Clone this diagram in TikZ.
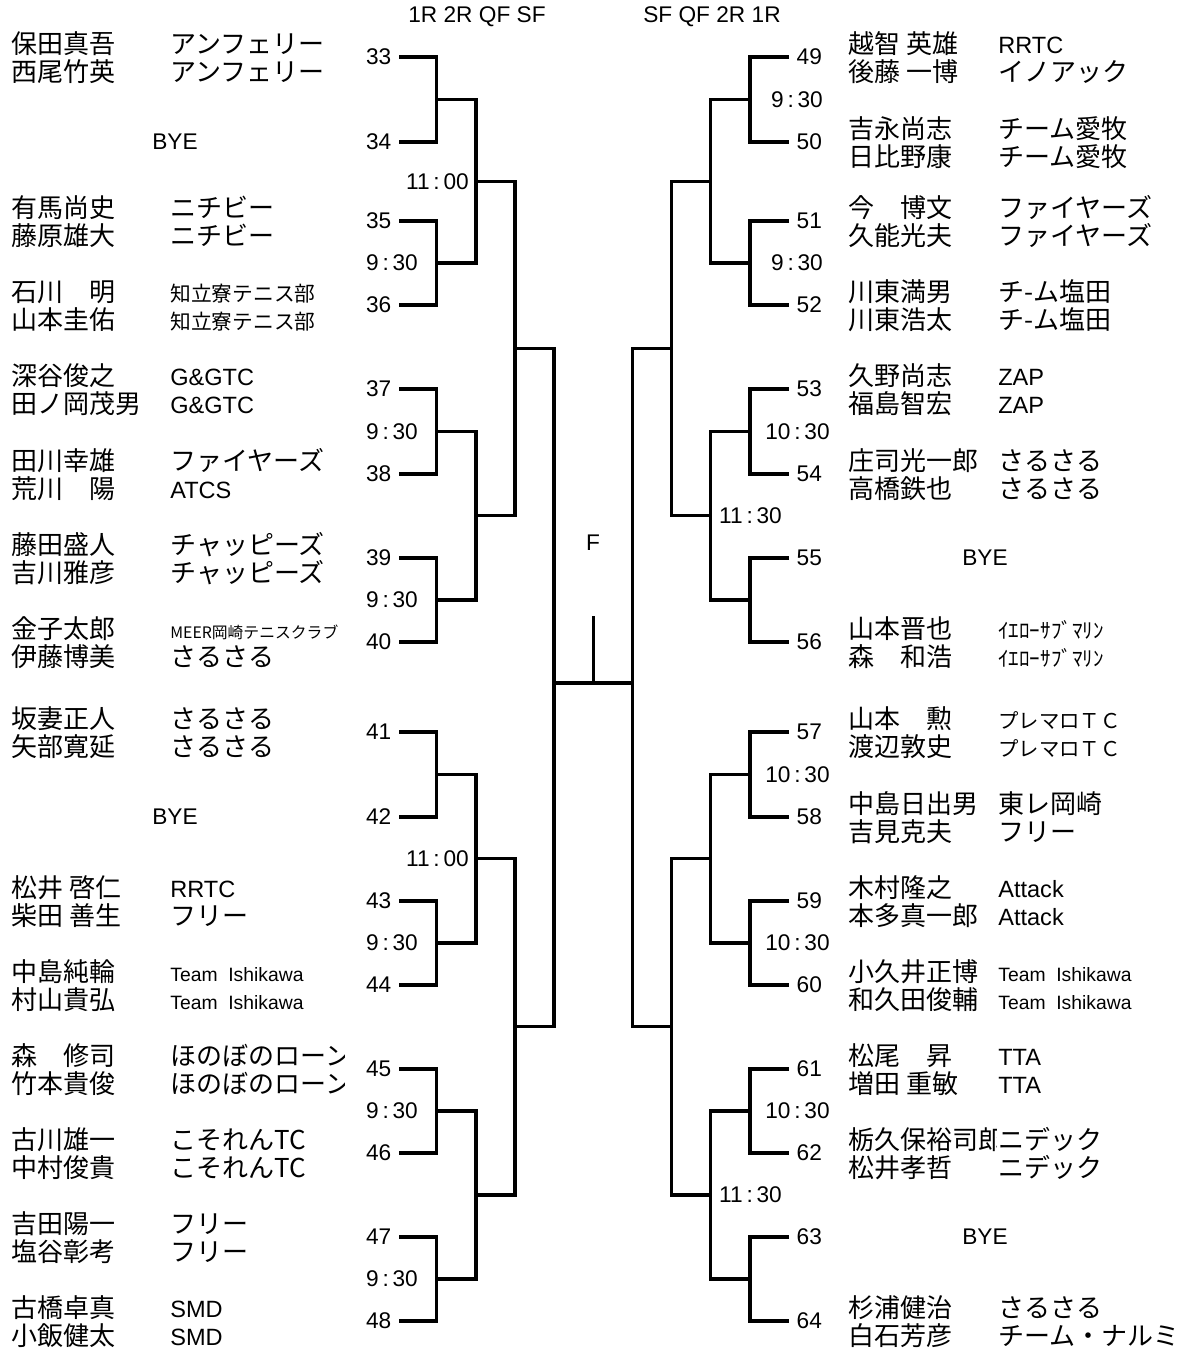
\documentclass[tikz,border=0pt]{standalone}
\usepackage{fontspec}
\setmainfont{Liberation Sans}
\newfontfamily\jpfont{Noto Sans CJK JP}
\newfontfamily\lafont{Liberation Sans}
\newcommand{\la}{\lafont\fontsize{13.4}{15}\selectfont}
\newcommand{\ti}{\lafont\fontsize{11}{12}\selectfont}
\newcommand{\js}[1]{\fontsize{#1}{#1}\selectfont}
\newcommand{\hm}[2]{#1\thinspace:\thinspace#2}

\begin{document}
\begin{tikzpicture}[x=0.02cm,y=-0.02cm,
  bk/.style={line width=1.75pt},
  num/.style={inner sep=4.2pt,font=\fontsize{12.9}{14}\selectfont},
  lab/.style={inner sep=0pt,font=\fontsize{12.9}{14}\selectfont},
  nm/.style={anchor=base west,inner sep=0pt,font=\jpfont\fontsize{14.8}{16}\selectfont}]
\useasboundingbox (0,0) rectangle (1188,1353);

% round headers and final
\node[lab] (hl) at (477,17) {1R 2R QF SF};
\node[lab] (hr) at (712,17) {SF QF 2R 1R};
\node[lab] (fin) at (593,543) {F};

% draw numbers
\foreach \y [count=\i from 33] in {57,142,221,305,389,474,558,642,732,817,901,985,1069,1153,1237,1321}
  \node[num,anchor=east] (n\i) at (399,\y) {\i};
\foreach \y [count=\i from 49] in {57,142,221,305,389,474,558,642,732,817,901,985,1069,1153,1237,1321}
  \node[num,anchor=west] (n\i) at (789,\y) {\i};

% first round
\foreach \a/\b/\m in {33/34/99.5,35/36/263,37/38/431.5,39/40/600,41/42/774.5,43/44/943,45/46/1111,47/48/1279}
  \draw[bk] (n\a.east) -| (436.7,\m) coordinate (j\a) |- (n\b.east);
\foreach \a/\b/\m in {49/50/99.5,51/52/263,53/54/431.5,55/56/600,57/58/774.5,59/60/943,61/62/1111,63/64/1279}
  \draw[bk] (n\a.west) -| (750,\m) coordinate (j\a) |- (n\b.west);

% second round
\foreach \a/\b/\m in {33/35/181.25,37/39/515.75,41/43/858.75,45/47/1195}
  \draw[bk] (j\a) -| (476,\m) coordinate (k\a) |- (j\b);
\foreach \a/\b/\m in {49/51/181.25,53/55/515.75,57/59/858.75,61/63/1195}
  \draw[bk] (j\a) -| (710.7,\m) coordinate (k\a) |- (j\b);

% QF
\foreach \a/\b/\m in {33/37/348.5,41/45/1026.9}
  \draw[bk] (k\a) -| (515,\m) coordinate (s\a) |- (k\b);
\foreach \a/\b/\m in {49/53/348.5,57/61/1026.9}
  \draw[bk] (k\a) -| (671.7,\m) coordinate (s\a) |- (k\b);

% SF and final
\draw[bk] (s33) -| (554,683) coordinate (fl) |- (s41);
\draw[bk] (s49) -| (632.7,683) coordinate (fr) |- (s57);
\draw[bk] (fl) -- (fr);
\coordinate (fm) at (593.3,683);
\draw[bk] (fm) -- ++(0,-67.3);

% match times
\foreach \x/\y/\t [count=\i] in {392/263/\hm{9}{30},437.5/181.25/\hm{11}{00},392/431.5/\hm{9}{30},
    392/600/\hm{9}{30},437.5/858.75/\hm{11}{00},392/943/\hm{9}{30},392/1111/\hm{9}{30},392/1279/\hm{9}{30},
    797/99.5/\hm{9}{30},797/263/\hm{9}{30},797.5/431.5/\hm{10}{30},750.5/515.75/\hm{11}{30},
    797.5/774.5/\hm{10}{30},797.5/943/\hm{10}{30},797.5/1111/\hm{10}{30},750.5/1195/\hm{11}{30}}
  \node[lab] (t\i) at (\x,\y) {\t};

% byes
\node[lab] (by1) at (175,142) {BYE};
\node[lab] (by2) at (175,817) {BYE};
\node[lab] (by3) at (985,558) {BYE};
\node[lab] (by4) at (985,1237) {BYE};

% left players
\begin{scope}
\clip (0,0) rectangle (344,1353);
\foreach \y/\na/\nb/\ta/\tb [count=\i] in {
    57/保田真吾/西尾竹英/アンフェリー/アンフェリー,
    221/有馬尚史/藤原雄大/ニチビー/ニチビー,
    305/石川　明/山本圭佑/\js{11.8}知立寮テニス部/\js{11.8}知立寮テニス部,
    389/深谷俊之/田ノ岡茂男/\la G\&GTC/\la G\&GTC,
    474/田川幸雄/荒川　陽/ファイヤーズ/\la ATCS,
    558/藤田盛人/吉川雅彦/チャッピーズ/チャッピーズ,
    642/金子太郎/伊藤博美/\js{9}MEER岡崎テニスクラブ/さるさる,
    732/坂妻正人/矢部寛延/さるさる/さるさる,
    901/松井 啓仁/柴田 善生/\la RRTC/フリー,
    985/中島純輪/村山貴弘/\ti Team\ \ Ishikawa/\ti Team\ \ Ishikawa,
    1069/森　修司/竹本貴俊/ほのぼのローン/ほのぼのローン,
    1153/古川雄一/中村俊貴/こそれんTC/こそれんTC,
    1237/吉田陽一/塩谷彰考/フリー/フリー,
    1321/古橋卓真/小飯健太/\la SMD/\la SMD} {
  \node[nm] (la\i) at (11,\y-4) {\na};
  \node[nm] (lb\i) at (11,\y+24) {\nb};
  \node[nm] (lc\i) at (170,\y-4) {\ta};
  \node[nm] (ld\i) at (170,\y+24) {\tb};
}
\end{scope}

% right players
\foreach \y/\na/\nb/\ta/\tb [count=\i] in {
    57/越智 英雄/後藤 一博/\la RRTC/イノアック,
    142/吉永尚志/日比野康/チーム愛牧/チーム愛牧,
    221/今　博文/久能光夫/ファイヤーズ/ファイヤーズ,
    305/川東満男/川東浩太/チ-ム塩田/チ-ム塩田,
    389/久野尚志/福島智宏/\la ZAP/\la ZAP,
    474/庄司光一郎/高橋鉄也/さるさる/さるさる,
    642/山本晋也/森　和浩/\js{12}ｲｴﾛｰｻﾌﾞﾏﾘﾝ/\js{12}ｲｴﾛｰｻﾌﾞﾏﾘﾝ,
    732/山本　勲/渡辺敦史/\js{11.6}プレマロＴＣ/\js{11.6}プレマロＴＣ,
    817/中島日出男/吉見克夫/東レ岡崎/フリー,
    901/木村隆之/本多真一郎/\la Attack/\la Attack,
    985/小久井正博/和久田俊輔/\ti Team\ \ Ishikawa/\ti Team\ \ Ishikawa,
    1069/松尾　昇/増田 重敏/\la TTA/\la TTA,
    1153/栃久保裕司郎/松井孝哲/ニデック/ニデック,
    1321/杉浦健治/白石芳彦/さるさる/チーム・ナルミ} {
  \begin{scope}
    \clip (840,\y-40) rectangle (996,\y+40);
    \node[nm] (ra\i) at (848,\y-4) {\na};
    \node[nm] (rb\i) at (848,\y+24) {\nb};
  \end{scope}
  \node[nm] (rc\i) at (998,\y-4) {\ta};
  \node[nm] (rd\i) at (998,\y+24) {\tb};
}
\end{tikzpicture}
\end{document}
